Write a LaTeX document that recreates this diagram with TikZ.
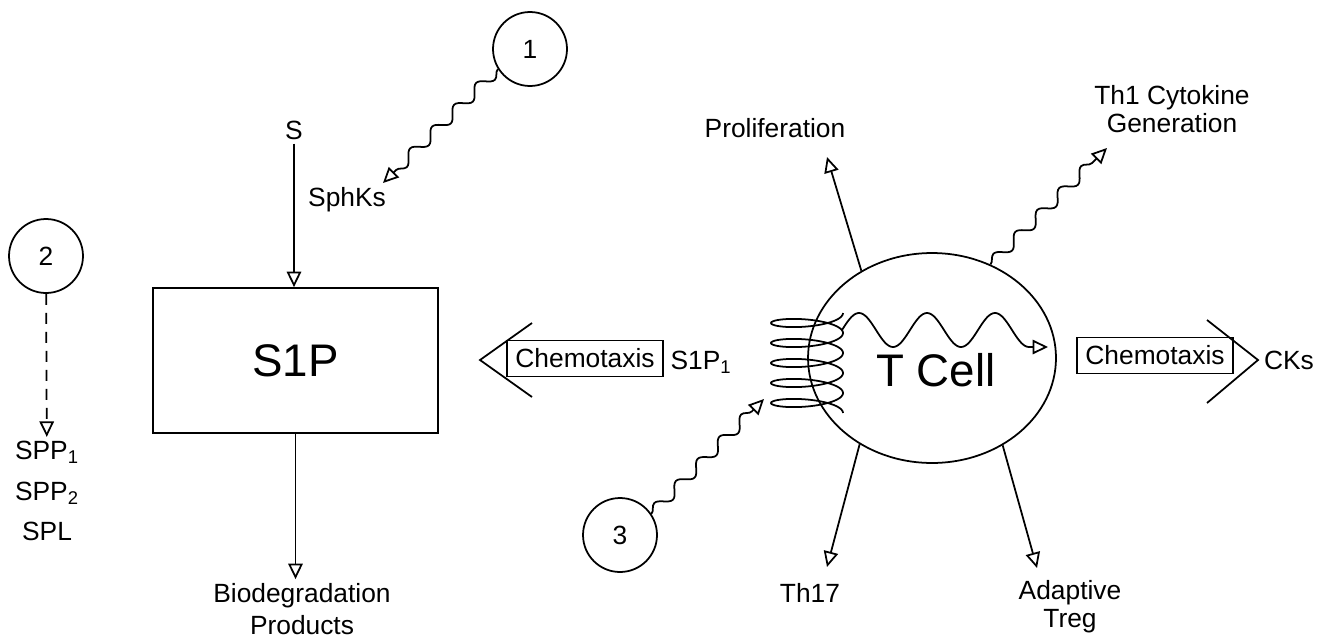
\documentclass[tikz,border=0pt]{standalone}
\usepackage{fontspec}
\setmainfont{Liberation Sans}
\usetikzlibrary{arrows.meta,decorations.pathmorphing,shapes.geometric,positioning}

\begin{document}
\begin{tikzpicture}[
    x=0.02cm, y=-0.02cm,
    >={Triangle[open,length=3.1mm,width=2.9mm]},
    line width=1pt,
    font=\fontsize{15}{16}\selectfont,
    tag/.style={
		inner sep=2pt,
		align=center
	},
	bigtag/.style={
		font=\fontsize{26}{28}\selectfont
	},
	numcirc/.style={
		circle,
		draw=black,
		minimum size=1.48cm,
		inner sep=0pt
	},
	chembox/.style={
		rectangle,
		draw=black,
		minimum width=3.12cm,
		minimum height=0.72cm,
		inner sep=0pt
	},
	wavy/.style={
		decorate,
		decoration={snake, amplitude=0.11cm, segment length=0.62cm, post length=0.32cm}
	}
  ]
  \useasboundingbox (0,0) rectangle (1324,639);

    % the S1P side
  \node [numcirc] (c1) at (530,49) {1};
  \node [numcirc] (c2) at (46,256) {2};
  \node [tag] (s) at (294,130) {S};
  \node [tag] (sphks) at (347,200) {SphKs};
  \node [draw, minimum width=5.7cm, minimum height=2.9cm, bigtag] (s1p) at (295.5,360.5) {S1P};
  \node [tag, font=\fontsize{15}{18}\selectfont] (bio) at (302,609) {Biodegradation\\Products};
  \node [tag, font=\fontsize{15}{23}\selectfont] (spp) at (47,491) {SPP\textsubscript{1}\\SPP\textsubscript{2}\\SPL};
  \node [chembox] (chemL) at (585,358.5) {Chemotaxis};

    % the T cell side
  \node [numcirc] (c3) at (620,535) {3};
  \node [tag] (s1p1) at (701,362) {S1P\textsubscript{1}};
  \node [draw, ellipse, minimum width=4.96cm, minimum height=4.2cm, inner sep=0pt] (tcell) at (932,358) {};
  \node [bigtag] (tcelltext) at (936,370) {T Cell};
  \node [chembox] (chemR) at (1155,355.5) {Chemotaxis};
  \node [tag] (cks) at (1289,360) {CKs};
  \node [tag] (prolif) at (775,128) {Proliferation};
  \node [tag] (th1) at (1172,109) {Th1 Cytokine\\Generation};
  \node [tag] (th17) at (810,593) {Th17};
  \node [tag] (treg) at (1070,607) {Adaptive\\Treg};

  \coordinate (sphtip) at (383,183);
  \coordinate (c3tip) at (764,399);
  \coordinate (th1tip) at (1107,148);
  \coordinate (proltip) at (827,157);
  \coordinate (th17tip) at (827,567);
  \coordinate (tregtip) at (1037,568);
  \coordinate (waveout) at (1048,347);
  \coordinate (chtipL) at (480,360);
  \coordinate (chtipR) at (1258,360);

  % open arrow heads of the chemotaxis boxes
  \draw (chtipL) ++(52,-37) -- (chtipL) -- ++(52,37);
  \draw (chtipR) ++(-51,-40) -- (chtipR) -- ++(-51,43);

  % receptor coil
  \draw [domain=0:1800, samples=300, smooth, variable=\t]
    plot ({807+36*cos(\t)}, {313+\t/360*20+8.5*sin(\t)});

  % signal wave inside the cell
  \draw [->] plot [domain=0:990, samples=120, smooth, variable=\t]
    ({842+\t/360*68}, {330-17*sin(\t)}) -- (waveout);

  \draw [->] (s.south) -- (s.south |- s1p.north);
  \draw [->] (s1p.south) -- (s1p.south |- bio.north);
  \draw [->, wavy] (c1.212) -- (sphtip);
  \draw [->, dash pattern=on 0.22cm off 0.16cm] (c2) -- (spp);
  \draw [->, wavy] (c3.34) -- (c3tip);
  \draw [->] (tcell.129) -- (proltip);
  \draw [->, wavy] (tcell.58) -- (th1tip);
  \draw [->] (tcell.230) -- (th17tip);
  \draw [->] (tcell.309) -- (tregtip);

\end{tikzpicture}
\end{document}
